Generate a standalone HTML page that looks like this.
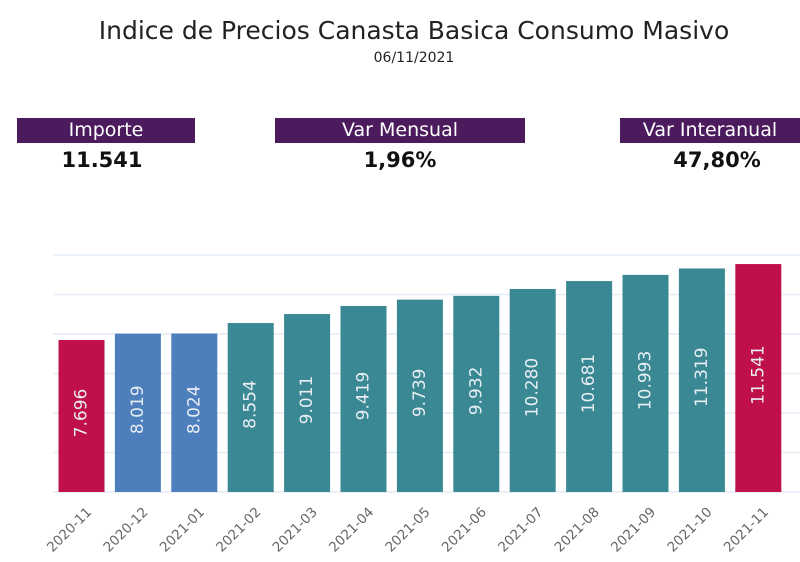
<!DOCTYPE html>
<html><head><meta charset="utf-8"><style>
body{margin:0;width:800px;height:562px;background:#fff;font-family:"DejaVu Sans","Liberation Sans",sans-serif;position:relative;overflow:hidden}
.t{position:absolute;left:0;width:828px;text-align:center;color:#222}
.box{position:absolute;top:118px;height:25px;background:#4b1b5e;color:#fff;font-size:19px;line-height:25px;text-align:center}
.val{position:absolute;top:148px;font-size:21px;font-weight:bold;color:#111;text-align:center}
</style></head><body>
<div class="t" style="top:16px;font-size:25px">Indice de Precios Canasta Basica Consumo Masivo</div>
<div class="t" style="top:50px;font-size:14px">06/11/2021</div>
<div class="box" style="left:17px;width:178px">Importe</div>
<div class="val" style="left:17px;width:170px">11.541</div>
<div class="box" style="left:275px;width:250px">Var Mensual</div>
<div class="val" style="left:275px;width:250px">1,96%</div>
<div class="box" style="left:620px;width:180px">Var Interanual</div>
<div class="val" style="left:627px;width:180px">47,80%</div>
<svg id="ch" width="800" height="562" style="position:absolute;left:0;top:0"></svg>
<script>
const categories=["2020-11","2020-12","2021-01","2021-02","2021-03","2021-04","2021-05","2021-06","2021-07","2021-08","2021-09","2021-10","2021-11"];
const values=[7696,8019,8024,8554,9011,9419,9739,9932,10280,10681,10993,11319,11541];
const labels=["7.696","8.019","8.024","8.554","9.011","9.419","9.739","9.932","10.280","10.681","10.993","11.319","11.541"];
const colorGroups=["red","blue","blue","teal","teal","teal","teal","teal","teal","teal","teal","teal","red"];
const gridTicks=[0,2000,4000,6000,8000,10000,12000];
const pal={red:"#c0104a",blue:"#4e7fbd",teal:"#3a8893"};
const svg=document.getElementById('ch');const NS="http://www.w3.org/2000/svg";
const y=v=>492-v*0.01975;const x=i=>81.5+i*56.4;
function mk(t,a){const e=document.createElementNS(NS,t);for(const k in a)e.setAttribute(k,a[k]);svg.appendChild(e);return e;}
gridTicks.forEach(g=>{const l=mk('line',{x1:53,x2:800,y1:y(g),y2:y(g),stroke:"#e3ebf5","stroke-width":1.5});

});
values.forEach((v,i)=>{
const r=mk('rect',{x:x(i)-23,y:y(v),width:46,height:492-y(v),fill:pal[colorGroups[i]]});


const cy=(y(v)+492)/2-3;
const t=mk('text',{x:x(i),y:cy,fill:"#e8eef4","font-size":17,"text-anchor":"middle","dominant-baseline":"central",transform:`rotate(-90 ${x(i)} ${cy})`,"font-family":"DejaVu Sans, sans-serif"});
t.textContent=labels[i];


const lx=x(i)+8,ly=510;
const c=mk('text',{x:lx,y:ly,fill:"#666","font-size":13.5,"text-anchor":"end","dominant-baseline":"central",transform:`rotate(-45 ${lx} ${ly})`,"font-family":"DejaVu Sans, sans-serif"});
c.textContent=categories[i];


});
</script>
</body></html>
